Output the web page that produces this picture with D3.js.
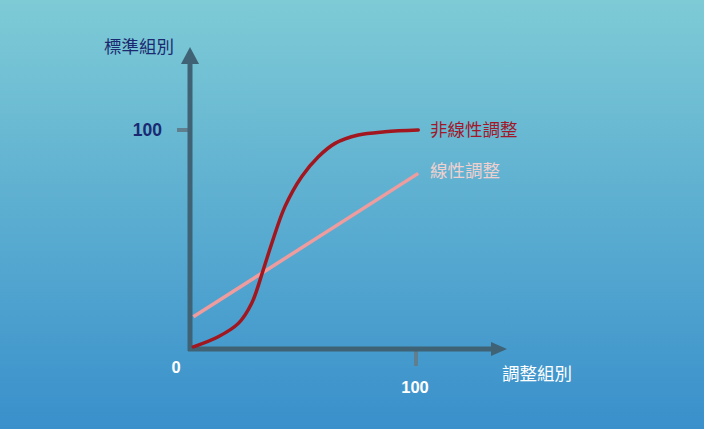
<!DOCTYPE html>
<html><head><meta charset="utf-8">
<script src="https://cdn.jsdelivr.net/npm/d3@7"></script>
<style>html,body{margin:0;padding:0;overflow:hidden;}svg{display:block;}</style>
</head><body>
<script>
// Data
const axisTitles = { y: "標準組別", x: "調整組別" };
const tickLabels = ["0", "100"];
const seriesNames = ["非線性調整", "線性調整"];
const nonlinearX = [0, 1.5, 12.5, 21.4, 27.3, 32.4, 36.2, 42, 49.4, 56.8, 64.2, 74.5, 86.3, 101];
const nonlinearY = [0.5, 1, 5.6, 11.7, 20.9, 36.1, 48.3, 65, 78.7, 87.8, 93.9, 97.7, 99.2, 100];
const linearX = [1.5, 101];
const linearY = [14.7, 80.2];

const W = 704, H = 429;
const svg = d3.select("body").append("svg").attr("width", W).attr("height", H);
const defs = svg.append("defs");
const g = defs.append("linearGradient").attr("id","bg").attr("x1",0).attr("y1",0).attr("x2",0).attr("y2",1);
g.append("stop").attr("offset","0%").attr("stop-color","#7ecbd6");
g.append("stop").attr("offset","100%").attr("stop-color","#3990cb");
svg.append("rect").attr("width",W).attr("height",H).attr("fill","url(#bg)");

const x = d3.scaleLinear().domain([0,100]).range([190,416]);
const y = d3.scaleLinear().domain([0,100]).range([349,130]);
const axisColor = "#3f6275";
const tickColor = "#5f7f8e";

// ticks
svg.append("line").attr("x1", x(0)-13).attr("x2", x(0)).attr("y1", y(100)).attr("y2", y(100))
  .attr("stroke", tickColor).attr("stroke-width", 4);
svg.append("line").attr("x1", x(100)).attr("x2", x(100)).attr("y1", y(0)).attr("y2", y(0)+17)
  .attr("stroke", tickColor).attr("stroke-width", 4);

// axes
svg.append("line").attr("x1", x(0)).attr("x2", x(0)).attr("y1", y(0)+2).attr("y2", 60)
  .attr("stroke", axisColor).attr("stroke-width", 5);
svg.append("path").attr("d", `M${x(0)},47 L${x(0)+9},64 L${x(0)-9},64 Z`).attr("fill", axisColor);
svg.append("line").attr("x1", x(0)-2).attr("x2", 495).attr("y1", y(0)).attr("y2", y(0))
  .attr("stroke", axisColor).attr("stroke-width", 5);
svg.append("path").attr("d", `M507,${y(0)} L491,${y(0)-7} L491,${y(0)+7} Z`).attr("fill", axisColor);

// lines
const line = d3.line().x(d=>x(d[0])).y(d=>y(d[1]));
svg.append("path").datum(linearX.map((v,i)=>[v, linearY[i]]))
  .attr("d", line).attr("fill","none").attr("stroke","#ee9c9e").attr("stroke-width",3.5);
svg.append("path").datum(nonlinearX.map((v,i)=>[v, nonlinearY[i]]).slice(1))
  .attr("d", line.curve(d3.curveCatmullRom.alpha(0.5))).attr("fill","none")
  .attr("stroke","#a2171f").attr("stroke-width",3.5).attr("stroke-linecap","round");

const cjk = "'Noto Sans CJK TC','Noto Sans CJK SC',sans-serif";
const num = "'Liberation Sans',Arial,sans-serif";

svg.append("text").attr("x", 104).attr("y", 53).text(axisTitles.y)
  .attr("font-family", cjk).attr("font-size", 17.5).attr("fill", "#1b2a70");
svg.append("text").attr("x", 502).attr("y", 380).text(axisTitles.x)
  .attr("font-family", cjk).attr("font-size", 17.5).attr("fill", "#ffffff");

svg.append("text").attr("x", 162).attr("y", y(100)+6).attr("text-anchor","end").text(tickLabels[1])
  .attr("font-family", num).attr("font-weight","bold").attr("font-size", 17.5).attr("fill", "#1a2a72");
svg.append("text").attr("x", 176).attr("y", 373).attr("text-anchor","middle").text(tickLabels[0])
  .attr("font-family", num).attr("font-weight","bold").attr("font-size", 16.5).attr("fill", "#ffffff");
svg.append("text").attr("x", x(100)-1).attr("y", 393).attr("text-anchor","middle").text(tickLabels[1])
  .attr("font-family", num).attr("font-weight","bold").attr("font-size", 16.5).attr("fill", "#ffffff");

svg.append("text").attr("x", 430).attr("y", 136).text(seriesNames[0])
  .attr("font-family", cjk).attr("font-size", 17.5).attr("fill", "#a0182a");
svg.append("text").attr("x", 430).attr("y", 177).text(seriesNames[1])
  .attr("font-family", cjk).attr("font-size", 17.5).attr("fill", "#f0d0cf");
</script>
</body></html>
